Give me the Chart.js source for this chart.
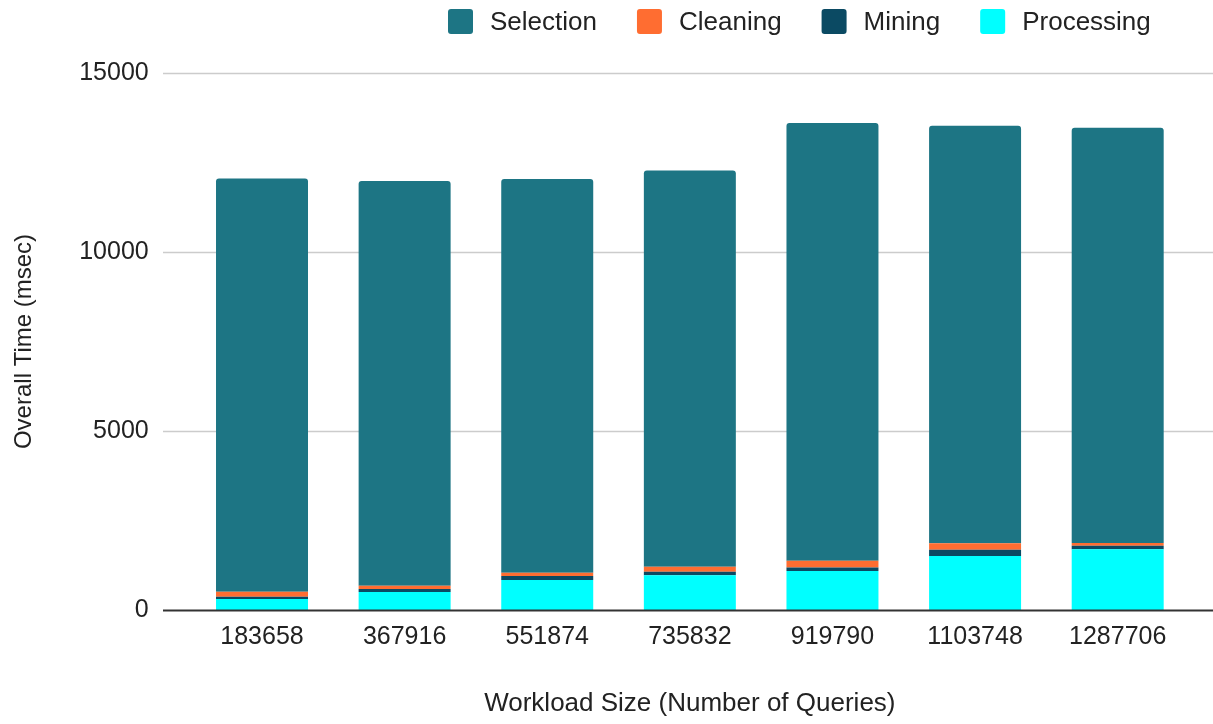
<!DOCTYPE html>
<html>
<head>
<meta charset="utf-8">
<script src="https://cdn.jsdelivr.net/npm/chart.js@4.4.0/dist/chart.umd.min.js"></script>
<style>
html,body{margin:0;padding:0;background:#fff;}
#wrap{width:1213px;height:724px;position:relative;}
</style>
</head>
<body>
<div id="wrap"><canvas id="c"></canvas></div>
<script>
const workloadSizes=['183658','367916','551874','735832','919790','1103748','1287706'];
const processingMs=[310,500,840,970,1090,1510,1695];
const miningMs=[60,85,110,100,100,170,100];
const cleaningMs=[140,90,90,140,185,185,75];
const selectionMs=[11540,11305,11000,11070,12225,11665,11600];
const yTicks=[0,5000,10000,15000];

const COLORS={
  'Selection':'#1d7584',
  'Cleaning':'#ff6d31',
  'Mining':'#0b4a63',
  'Processing':'#00ffff'
};
const legendOrder=['Selection','Cleaning','Mining','Processing'];
const FONT='"Liberation Sans", Arial, sans-serif';

// horizontal grid lines that run past the plot edges, like the sheets chart
const gridPlugin={
  id:'wideGrid',
  beforeDatasetsDraw(chart){
    const y=chart.scales.y;
    const {ctx}=chart;
    ctx.save();
    yTicks.forEach(v=>{
      if(v===0) return;
      const py=Math.round(y.getPixelForValue(v))+0.5;
      ctx.strokeStyle='#cccccc';
      ctx.lineWidth=1.5;
      ctx.beginPath();
      ctx.moveTo(163,py);
      ctx.lineTo(chart.width,py);
      ctx.stroke();
    });
    ctx.restore();
  },
  afterDatasetsDraw(chart){
    const y=chart.scales.y;
    const {ctx}=chart;
    const py=Math.round(y.getPixelForValue(0))+0.5;
    ctx.save();
    ctx.strokeStyle='#333333';
    ctx.lineWidth=2;
    ctx.beginPath();
    ctx.moveTo(163,py);
    ctx.lineTo(chart.width,py);
    ctx.stroke();
    ctx.restore();
  }
};

const legendPlugin={
  id:'sheetLegend',
  afterDraw(chart){
    const {ctx}=chart;
    ctx.save();
    ctx.font='26px '+FONT;
    ctx.textBaseline='middle';
    const box=25, gapText=17, gapItem=40, cy=21.5;
    let x=448;
    legendOrder.forEach(label=>{
      ctx.fillStyle=COLORS[label];
      ctx.beginPath();
      ctx.roundRect(x,cy-box/2,box,box,3);
      ctx.fill();
      ctx.fillStyle='#222222';
      ctx.fillText(label,x+box+gapText,cy+1);
      x+=box+gapText+ctx.measureText(label).width+gapItem;
    });
    ctx.restore();
  }
};

const datasets=[
  {label:'Processing',data:processingMs,backgroundColor:COLORS['Processing'],borderRadius:0},
  {label:'Mining',data:miningMs,backgroundColor:COLORS['Mining'],borderRadius:0},
  {label:'Cleaning',data:cleaningMs,backgroundColor:COLORS['Cleaning'],borderRadius:0},
  {label:'Selection',data:selectionMs,backgroundColor:COLORS['Selection'],borderRadius:{topLeft:3,topRight:3,bottomLeft:0,bottomRight:0},borderSkipped:false}
];

new Chart(document.getElementById('c').getContext('2d'),{
  type:'bar',
  data:{labels:workloadSizes,datasets},
  options:{
    responsive:true,
    maintainAspectRatio:false,
    animation:false,
    layout:{padding:{top:73,right:24,bottom:0,left:0}},
    datasets:{bar:{barPercentage:0.645,categoryPercentage:1}},
    plugins:{legend:{display:false},tooltip:{enabled:false}},
    scales:{
      x:{
        stacked:true,
        grid:{display:false,drawTicks:false},
        border:{display:false},
        ticks:{color:'#222',font:{family:FONT,size:25},padding:12,maxRotation:0},
        title:{display:true,text:'Workload Size (Number of Queries)',color:'#222',font:{family:FONT,size:26},padding:{top:0,bottom:5}},
        afterFit(scale){scale.height=114;}
      },
      y:{
        stacked:true,
        min:0,max:15000,
        grid:{display:false,drawTicks:false},
        border:{display:false},
        ticks:{stepSize:5000,color:'#222',font:{family:FONT,size:25},padding:42,callback:v=>String(v)},
        title:{display:true,text:'Overall Time (msec)',color:'#222',font:{family:FONT,size:24},padding:{top:10,bottom:0}},
        afterFit(scale){scale.width=190.7;}
      }
    }
  },
  plugins:[gridPlugin,legendPlugin]
});
</script>
</body>
</html>
